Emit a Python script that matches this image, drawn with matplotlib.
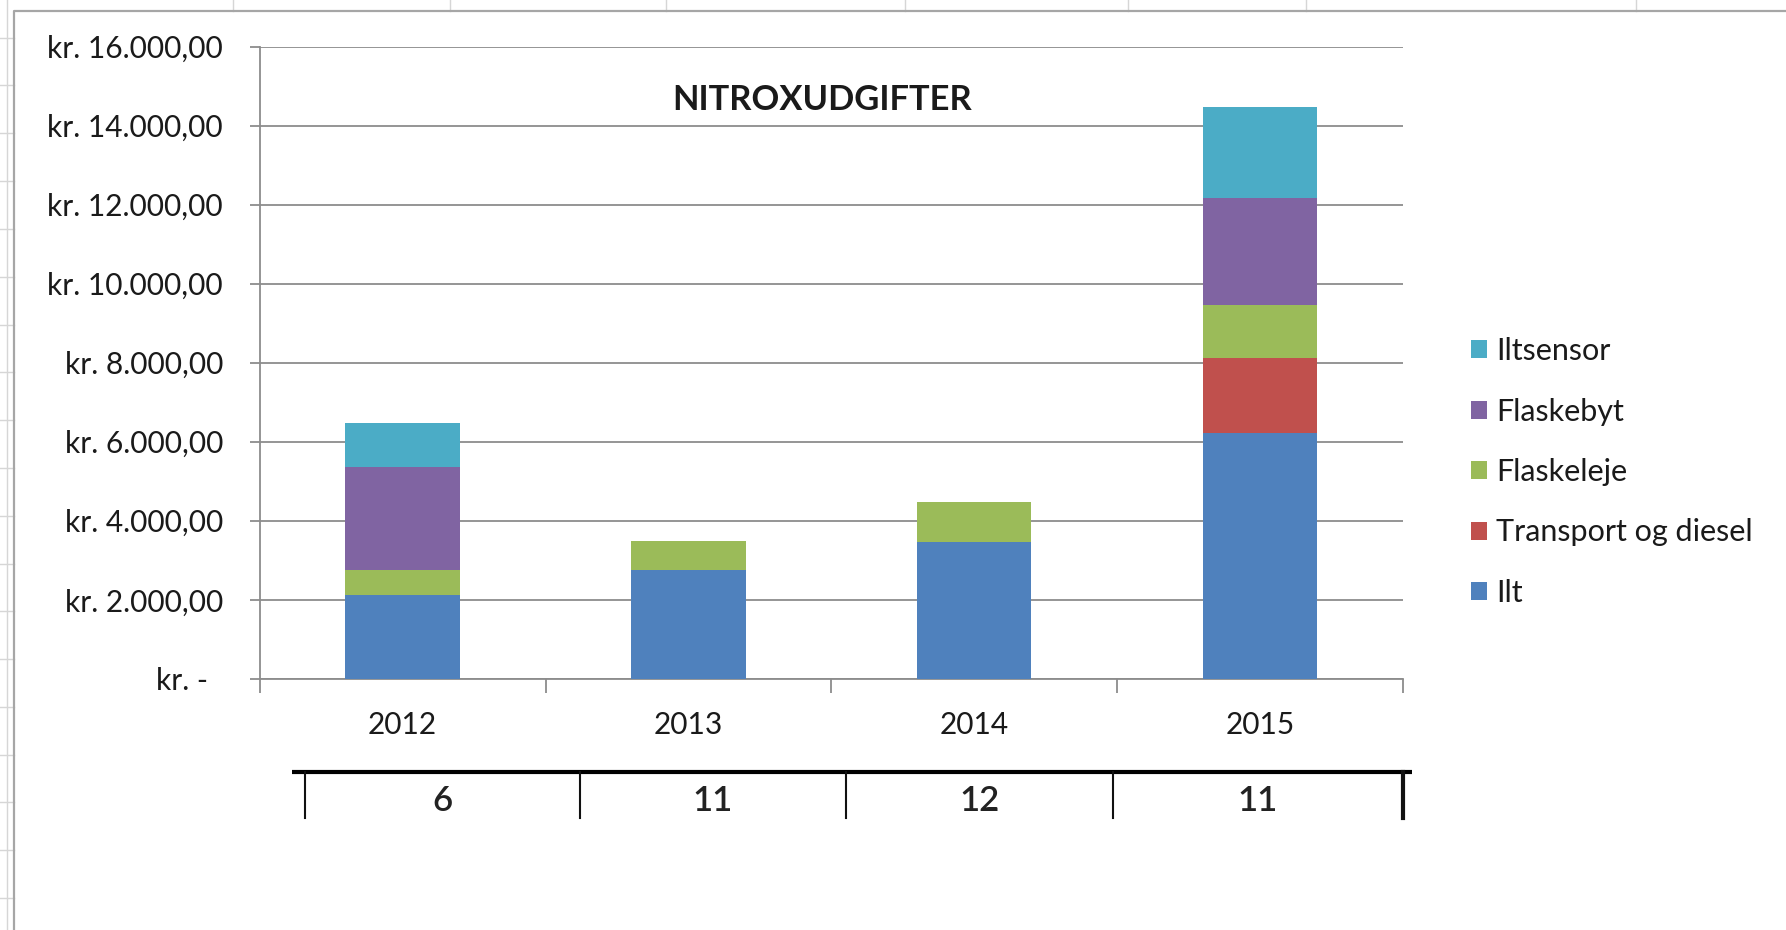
import matplotlib
matplotlib.use('Agg')
import matplotlib.pyplot as plt
from matplotlib.lines import Line2D
from matplotlib.patches import Patch
import numpy as np

# ---------------- data ----------------
years = ['2012', '2013', '2014', '2015']
series = ['Ilt', 'Transport og diesel', 'Flaskeleje', 'Flaskebyt', 'Iltsensor']
ilt = [2110, 2750, 3460, 6220]
transport = [0, 0, 0, 1910]
flaskeleje = [655, 750, 1010, 1320]
flaskebyt = [2595, 0, 0, 2720]
iltsensor = [1120, 0, 0, 2310]
counts = ['6', '11', '12', '11']
yticks = list(range(0, 16001, 2000))
title = 'NITROXUDGIFTER'

colors = ['#4F81BD', '#C0504D', '#9BBB59', '#8064A2', '#4BACC6']
txt = '#1a1a1a'
grid_c = '#8c8c8c'

plt.rcParams['font.family'] = ['Lato', 'DejaVu Sans']

W, H = 1786, 930
fig = plt.figure(figsize=(W / 100, H / 100), dpi=100)
fig.patch.set_facecolor('white')


def fx(x):
    return x / W


def fy(y):
    return 1 - y / H


# ---------------- spreadsheet background ----------------
cell_c = '#d6d6d6'
fig.add_artist(Line2D([fx(7), fx(7)], [0, 1], color=cell_c, lw=1, transform=fig.transFigure))
yy = 37.7
while yy < H:
    fig.add_artist(Line2D([0, fx(14)], [fy(yy), fy(yy)], color=cell_c, lw=1, transform=fig.transFigure))
    yy += 47.8
for cx in [233, 450, 666, 905, 1128, 1306, 1636]:
    fig.add_artist(Line2D([fx(cx), fx(cx)], [fy(0), fy(11)], color=cell_c, lw=1, transform=fig.transFigure))
fig.add_artist(Line2D([fx(14), fx(14), 1], [0, fy(11), fy(11)], color='#a6a6a6', lw=1.6,
                      transform=fig.transFigure))

# ---------------- chart ----------------
ax = fig.add_axes([fx(259.7), fy(678.8), fx(1403) - fx(259.7), fy(46.7) - fy(678.8)])
x = np.arange(len(years))
bottom = np.zeros(len(years))
for vals, name, c in zip([ilt, transport, flaskeleje, flaskebyt, iltsensor], series, colors):
    ax.bar(x, vals, 0.4, bottom=bottom, color=c, label=name, zorder=3, linewidth=0)
    bottom += np.array(vals)

ax.set_xlim(-0.5, 3.5)
ax.set_ylim(0, 16000)
ax.set_yticks(yticks)


def fmt(v):
    if v == 0:
        return 'kr. -  '
    s = f'{v:,.2f}'.replace(',', 'X').replace('.', ',').replace('X', '.')
    return 'kr. ' + s


ax.set_yticklabels([fmt(v) for v in yticks])
ax.grid(axis='y', color=grid_c, linewidth=1.3, zorder=0)
ax.set_axisbelow(True)
for s in ['top', 'right']:
    ax.spines[s].set_visible(False)
for s in ['left', 'bottom']:
    ax.spines[s].set_color(grid_c)
    ax.spines[s].set_linewidth(1.3)
ax.tick_params(axis='y', length=7.5, color=grid_c, width=1.3, pad=19, labelsize=21.5, labelcolor=txt)
ax.set_xticks(x)
ax.set_xticklabels(years)
ax.set_xticks(np.arange(-0.5, len(years), 1), minor=True)
ax.tick_params(axis='x', which='major', length=0, pad=23, labelsize=21.5, labelcolor=txt)
ax.tick_params(axis='x', which='minor', length=10, color=grid_c, width=1.3)

fig.text(fx(822), fy(100), title, ha='center', va='center', fontsize=24.8, fontweight='bold', color=txt)

handles = [Patch(facecolor=c, edgecolor='none') for c in colors][::-1]
fig.legend(handles, series[::-1], loc='center left', bbox_to_anchor=(fx(1471), fy(472)),
           frameon=False, borderpad=0, borderaxespad=0, handlelength=0.53, handleheight=0.53,
           handletextpad=0.3, labelspacing=1.06, fontsize=22, labelcolor=txt)

# ---------------- table row under chart ----------------
bounds = [305, 580, 846, 1113, 1403]
fig.add_artist(Line2D([fx(292), fx(1412)], [fy(772), fy(772)], color='black', lw=3,
                      transform=fig.transFigure, solid_capstyle='butt'))
for i, bx in enumerate(bounds):
    fig.add_artist(Line2D([fx(bx), fx(bx)], [fy(772), fy(818)], color='#111111',
                          lw=3 if i == len(bounds) - 1 else 1.5, transform=fig.transFigure))
for i, n in enumerate(counts):
    cxp = (bounds[i] + bounds[i + 1]) / 2
    fig.text(fx(cxp), fy(801), n, ha='center', va='center', fontsize=25, fontweight='semibold',
             color='#222222')

fig.savefig('out.png', dpi=100, facecolor='white')
